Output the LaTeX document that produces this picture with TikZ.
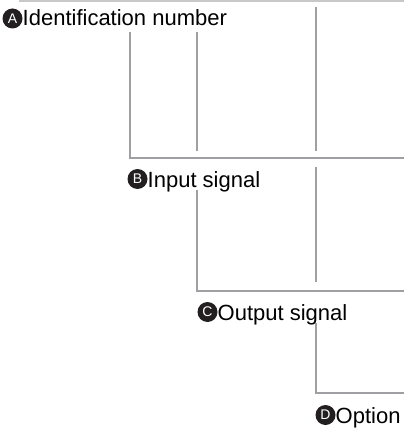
\documentclass[tikz,border=0pt]{standalone}
\usepackage{fontspec}
\setmainfont{Liberation Sans}
\definecolor{linegray}{HTML}{A0A0A4}
\definecolor{topgray}{HTML}{C8C8CA}
\definecolor{dotblack}{HTML}{231F20}
\begin{document}
\begin{tikzpicture}[x=1pt,y=-1pt,
  conn/.style={draw=linegray,line width=2.2pt},
  lbl/.style={anchor=base west,inner sep=0pt,font=\fontsize{22}{24}\selectfont,text=black},
  badge/.style={circle,fill=dotblack,inner sep=0pt,minimum size=20pt,text=white,font=\fontsize{14}{15}\selectfont}]
\useasboundingbox (0,0) rectangle (404,430);
% labels
\node[badge] (ba) at (12.5,18.5) {A};
\node[lbl] (ta) at (22.5,26) {Identification number};
\node[badge] (bb) at (137.5,179) {B};
\node[lbl] (tb) at (147.5,187) {Input signal};
\node[badge] (bc) at (207.5,312) {C};
\node[lbl] (tc) at (217.5,320) {Output signal};
\node[badge] (bd) at (325.5,415) {D};
\node[lbl] (td) at (335.5,423) {Option};
% coordinates
\coordinate (t1) at (19,1);
\coordinate (t2) at (404,1);
\coordinate (a1) at (130,32);
\coordinate (a2) at (130,158);
\coordinate (a3) at (404,158);
\coordinate (b1) at (197,32);
\coordinate (b2) at (197,151);
\coordinate (c1) at (316,7);
\coordinate (c2) at (316,151);
\coordinate (c3) at (316,167);
\coordinate (c4) at (316,282);
\coordinate (b3) at (197,190);
\coordinate (b4) at (197,291);
\coordinate (b5) at (404,291);
\coordinate (d1) at (316,323);
\coordinate (d2) at (316,393);
\coordinate (d3) at (404,393);
% lines
\draw[draw=topgray,line width=2pt] (t1) -- (t2);
\draw[conn] (a1) -- (a2) -- (a3);
\draw[conn] (b1) -- (b2);
\draw[conn] (c1) -- (c2);
\draw[conn] (c3) -- (c4);
\draw[conn] (b3) -- (b4) -- (b5);
\draw[conn] (d1) -- (d2) -- (d3);
\end{tikzpicture}
\end{document}
